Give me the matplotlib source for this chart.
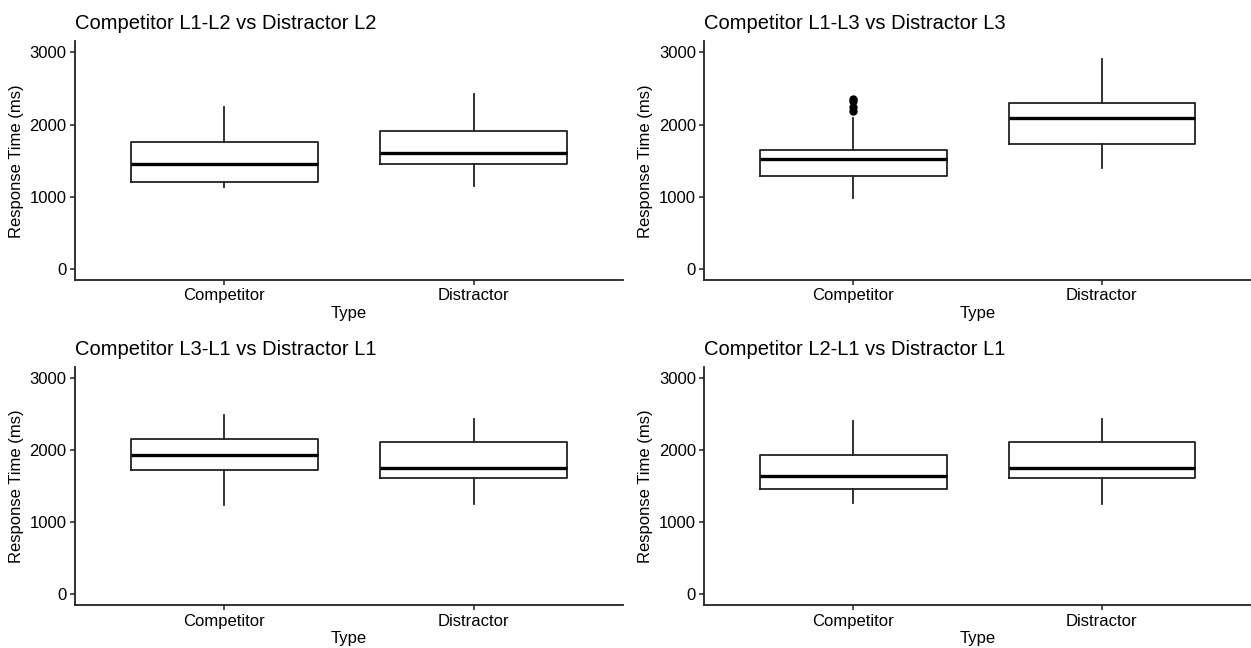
import matplotlib
matplotlib.use("Agg")
import matplotlib.pyplot as plt

plt.rcParams['font.family'] = ['Liberation Sans', 'DejaVu Sans']

titles = ["Competitor L1-L2 vs Distractor L2", "Competitor L1-L3 vs Distractor L3",
          "Competitor L3-L1 vs Distractor L1", "Competitor L2-L1 vs Distractor L1"]
types = ["Competitor", "Distractor"]

# five-number summaries per panel: [whislo, q1, med, q3, whishi]
comp = [[1130, 1200, 1450, 1760, 2250],
        [990, 1290, 1520, 1650, 2090],
        [1240, 1730, 1930, 2160, 2490],
        [1270, 1460, 1640, 1930, 2410]]
dist = [[1150, 1450, 1600, 1910, 2430],
        [1400, 1730, 2090, 2300, 2910],
        [1250, 1610, 1750, 2120, 2440],
        [1250, 1610, 1750, 2120, 2440]]
comp_fliers = [[], [2190, 2250, 2320, 2350], [], []]
dist_fliers = [[], [], [], []]

fig = plt.figure(figsize=(12.51, 6.48), dpi=100)
positions = [[0.060, 0.568, 0.438, 0.368], [0.563, 0.568, 0.437, 0.368],
             [0.060, 0.066, 0.438, 0.367], [0.563, 0.066, 0.437, 0.367]]

ink = '#222222'
for i in range(4):
    ax = fig.add_axes(positions[i])
    stats = []
    for s, fl in [(comp[i], comp_fliers[i]), (dist[i], dist_fliers[i])]:
        stats.append(dict(whislo=s[0], q1=s[1], med=s[2], q3=s[3], whishi=s[4], fliers=fl))
    ax.bxp(stats, positions=[1, 2], widths=0.75, showcaps=False,
           boxprops=dict(color=ink, linewidth=1.3),
           whiskerprops=dict(color=ink, linewidth=1.3),
           medianprops=dict(color='black', linewidth=2.4),
           flierprops=dict(marker='o', markerfacecolor='black', markeredgecolor='black', markersize=5))
    ax.set_xlim(0.4, 2.6)
    ax.set_ylim(-150, 3150)
    ax.set_yticks([0, 1000, 2000, 3000])
    ax.set_xticks([1, 2])
    ax.set_xticklabels(types)
    for sp in ['top', 'right']:
        ax.spines[sp].set_visible(False)
    for sp in ['left', 'bottom']:
        ax.spines[sp].set_linewidth(1.3)
        ax.spines[sp].set_color(ink)
    ax.tick_params(length=3.5, width=1.1, color=ink, labelsize=12, labelcolor='black', pad=2.5)
    ax.set_xlabel("Type", fontsize=12, labelpad=2)
    ax.set_ylabel("Response Time (ms)", fontsize=12, labelpad=4)
    ax.set_title(titles[i], loc='left', fontsize=14.5, pad=9)

plt.savefig("out.png", dpi=100)
